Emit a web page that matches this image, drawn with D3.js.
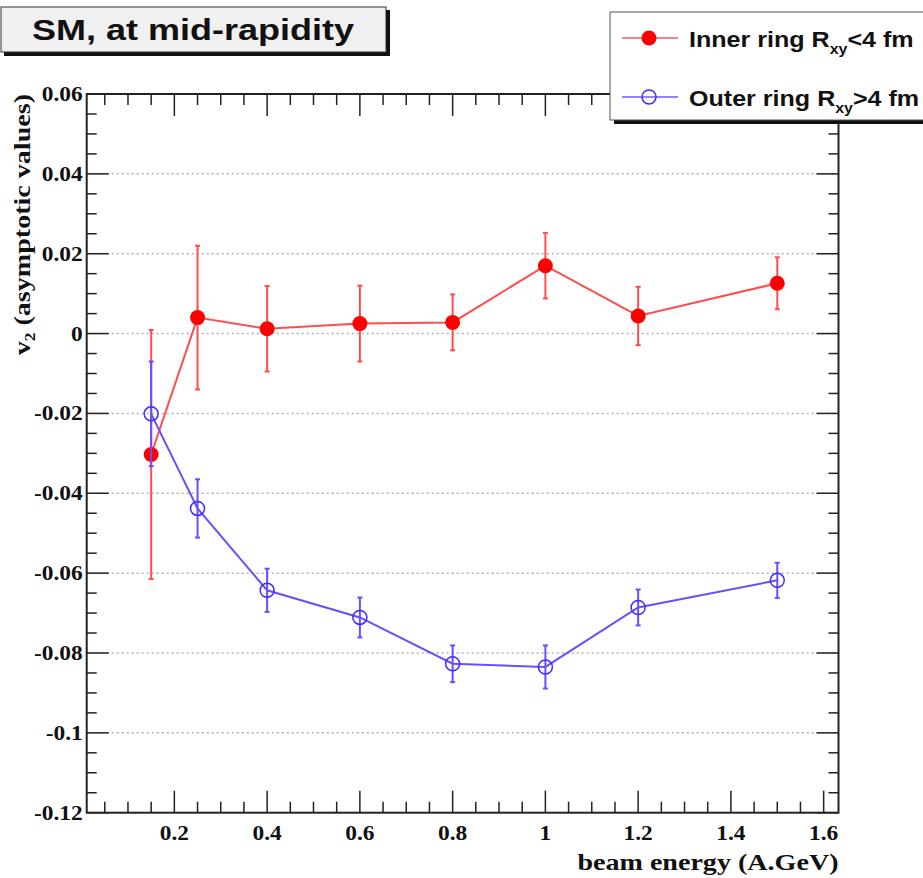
<!DOCTYPE html>
<html>
<head>
<meta charset="utf-8">
<script src="https://cdn.jsdelivr.net/npm/d3@7"></script>
<style>
  body { margin: 0; background: #fff; }
  svg { display: block; }
</style>
</head>
<body>
<div id="chart"></div>
<script>
// beam energy (A.GeV) and v2 values
var energies = [0.15, 0.25, 0.4, 0.6, 0.8, 1.0, 1.2, 1.5];
var innerV2 = [-0.0303, 0.0040, 0.0012, 0.0025, 0.0028, 0.0170, 0.0044, 0.0126];
var innerErr = [0.0312, 0.0180, 0.0107, 0.0095, 0.0070, 0.0082, 0.0073, 0.0065];
var outerV2 = [-0.0201, -0.0438, -0.0643, -0.0711, -0.0827, -0.0835, -0.0686, -0.0618];
var outerErr = [0.0131, 0.0073, 0.0054, 0.0050, 0.0046, 0.0054, 0.0045, 0.0044];

var xTicks = [0.2, 0.4, 0.6, 0.8, 1, 1.2, 1.4, 1.6];
var yTicks = [-0.12, -0.1, -0.08, -0.06, -0.04, -0.02, 0, 0.02, 0.04, 0.06];

var W = 923, H = 878;
var frame = {left: 86.7, right: 838.5, top: 94, bottom: 812.7};

var svg = d3.select('#chart').append('svg')
    .attr('width', W)
    .attr('height', H);

var x = d3.scaleLinear().domain([0.011, 1.632]).range([frame.left, frame.right]);
var y = d3.scaleLinear().domain([-0.12, 0.06]).range([frame.bottom, frame.top]);

var serif = '"Liberation Serif", "Times New Roman", serif';
var sans = '"Liberation Sans", Arial, Helvetica, sans-serif';

// text in the original is wider than the local fonts, so stretch along the text direction
function label(parent, tx, ty, sx, anchor, family, size) {
    return parent.append('g')
        .attr('transform', 'translate(' + tx + ',' + ty + ') scale(' + sx + ',1)')
        .append('text')
        .attr('text-anchor', anchor)
        .style('font-family', family)
        .style('font-weight', 'bold')
        .style('font-size', size + 'px')
        .attr('fill', '#111');
}

// horizontal dotted grid at major y ticks
svg.append('g').selectAll('line')
    .data(yTicks.filter(function (d) { return d > -0.12 && d < 0.06; }))
    .enter().append('line')
    .attr('x1', frame.left).attr('x2', frame.right)
    .attr('y1', function (d) { return y(d); })
    .attr('y2', function (d) { return y(d); })
    .attr('stroke', '#b0b0b0')
    .attr('stroke-width', 1.5)
    .attr('stroke-dasharray', '2,3');

// ticks (ROOT style: inside the frame, on all four sides)
var xMinor = d3.range(0.05, 1.631, 0.05);
var yMinor = d3.range(-0.12, 0.0601, 0.005);
var ticks = svg.append('g').attr('stroke', '#222').attr('stroke-width', 1.5);

xMinor.forEach(function (v) {
    var isMajor = Math.abs(v / 0.2 - Math.round(v / 0.2)) < 1e-6;
    var len = isMajor ? 22 : 11;
    ticks.append('line').attr('x1', x(v)).attr('x2', x(v))
        .attr('y1', frame.bottom).attr('y2', frame.bottom - len);
    ticks.append('line').attr('x1', x(v)).attr('x2', x(v))
        .attr('y1', frame.top).attr('y2', frame.top + len);
});
yMinor.forEach(function (v) {
    var isMajor = Math.abs(v / 0.02 - Math.round(v / 0.02)) < 1e-6;
    var len = isMajor ? 22 : 10;
    ticks.append('line').attr('y1', y(v)).attr('y2', y(v))
        .attr('x1', frame.left).attr('x2', frame.left + len);
    ticks.append('line').attr('y1', y(v)).attr('y2', y(v))
        .attr('x1', frame.right).attr('x2', frame.right - len);
});

// frame
svg.append('rect')
    .attr('x', frame.left).attr('y', frame.top)
    .attr('width', frame.right - frame.left)
    .attr('height', frame.bottom - frame.top)
    .attr('fill', 'none')
    .attr('stroke', '#222')
    .attr('stroke-width', 2);

// tick labels
yTicks.forEach(function (d) {
    label(svg, frame.left - 4, y(d), 1.17, 'end', serif, 20)
        .attr('dy', '0.35em')
        .text(String(+d.toFixed(2)));
});
xTicks.forEach(function (d) {
    label(svg, x(d), 840, 1.17, 'middle', serif, 20)
        .text(String(d));
});

// axis titles
label(svg, frame.right, 870, 1.17, 'end', serif, 24)
    .text('beam energy (A.GeV)');

var yTitle = svg.append('text')
    .attr('transform', 'translate(30,' + frame.top + ') rotate(-90) scale(1.17,1)')
    .attr('text-anchor', 'end')
    .style('font-family', serif)
    .style('font-weight', 'bold')
    .style('font-size', '24px')
    .attr('fill', '#111');
yTitle.append('tspan').text('v');
yTitle.append('tspan').attr('dy', 5).style('font-size', '15px').text('2');
yTitle.append('tspan').attr('dy', -5).text(' (asymptotic values)');

// series
var series = [
    {name: 'inner', values: innerV2, errs: innerErr, line: '#ff4d4d', marker: '#ff0000', filled: true},
    {name: 'outer', values: outerV2, errs: outerErr, line: '#6a4dff', marker: '#3a2dff', filled: false}
];

var line = d3.line()
    .x(function (d) { return x(d[0]); })
    .y(function (d) { return y(d[1]); });

series.forEach(function (s) {
    var pts = energies.map(function (e, i) { return [e, s.values[i], s.errs[i]]; });
    var g = svg.append('g').attr('class', 'series-' + s.name);

    g.append('path')
        .datum(pts)
        .attr('d', line)
        .attr('fill', 'none')
        .attr('stroke', s.line)
        .attr('stroke-width', 2);

    // error bars with small end caps
    var eb = g.selectAll('.err').data(pts).enter().append('g')
        .attr('stroke', s.line).attr('stroke-width', 2);
    eb.append('line')
        .attr('x1', function (d) { return x(d[0]); })
        .attr('x2', function (d) { return x(d[0]); })
        .attr('y1', function (d) { return y(d[1] - d[2]); })
        .attr('y2', function (d) { return y(d[1] + d[2]); });
    [-1, 1].forEach(function (sign) {
        eb.append('line')
            .attr('x1', function (d) { return x(d[0]) - 2.5; })
            .attr('x2', function (d) { return x(d[0]) + 2.5; })
            .attr('y1', function (d) { return y(d[1] + sign * d[2]); })
            .attr('y2', function (d) { return y(d[1] + sign * d[2]); });
    });

    g.selectAll('circle').data(pts).enter().append('circle')
        .attr('cx', function (d) { return x(d[0]); })
        .attr('cy', function (d) { return y(d[1]); })
        .attr('r', s.filled ? 7.5 : 7)
        .attr('fill', s.filled ? s.marker : 'none')
        .attr('stroke', s.marker)
        .attr('stroke-width', s.filled ? 0 : 1.5);
});

// title box
var tb = svg.append('g');
tb.append('rect').attr('x', 4).attr('y', 10).attr('width', 386).attr('height', 46).attr('fill', '#111');
tb.append('rect').attr('x', 1).attr('y', 7).attr('width', 385).attr('height', 45)
    .attr('fill', '#f0f0f0').attr('stroke', '#333').attr('stroke-width', 1);
label(tb, 193, 40, 1.2, 'middle', sans, 30)
    .text('SM, at mid-rapidity');

// legend
var lg = svg.append('g');
lg.append('rect').attr('x', 614).attr('y', 16).attr('width', 330).attr('height', 108).attr('fill', '#111');
lg.append('rect').attr('x', 610).attr('y', 12).attr('width', 330).attr('height', 108)
    .attr('fill', '#fff').attr('stroke', '#555').attr('stroke-width', 1);

var legendRows = [
    {s: series[0], cy: 38, label: 'Inner ring R', rest: '<4 fm'},
    {s: series[1], cy: 97, label: 'Outer ring R', rest: '>4 fm'}
];
legendRows.forEach(function (r) {
    lg.append('line').attr('x1', 622).attr('x2', 678).attr('y1', r.cy).attr('y2', r.cy)
        .attr('stroke', r.s.line).attr('stroke-width', 2).attr('opacity', 0.7);
    lg.append('circle').attr('cx', 649).attr('cy', r.cy)
        .attr('r', r.s.filled ? 7.5 : 7)
        .attr('fill', r.s.filled ? r.s.marker : 'none')
        .attr('stroke', r.s.marker)
        .attr('stroke-width', r.s.filled ? 0 : 1.5);
    var t = label(lg, 689, r.cy + 9, 1.14, 'start', sans, 22);
    t.append('tspan').text(r.label);
    t.append('tspan').attr('dy', 7).style('font-size', '14px').text('xy');
    t.append('tspan').attr('dy', -7).text(r.rest);
});
</script>
</body>
</html>
